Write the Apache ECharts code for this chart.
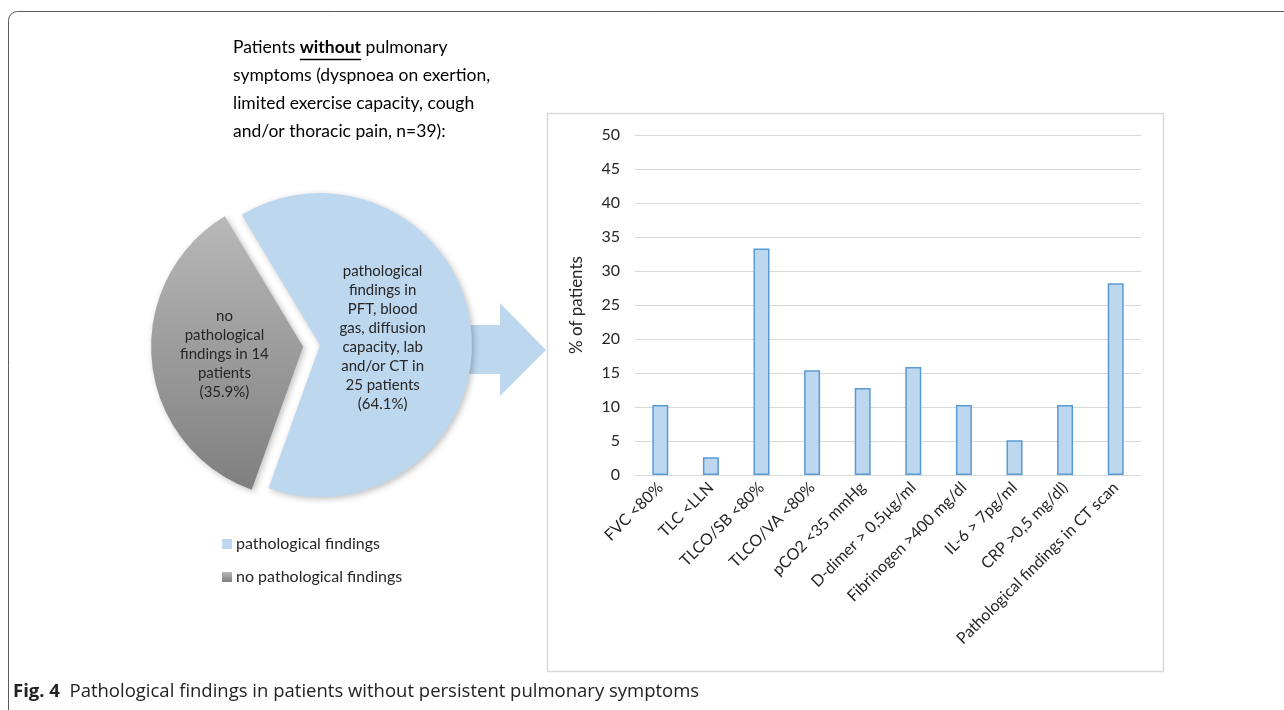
<!DOCTYPE html>
<html>
<head>
<meta charset="utf-8">
<script src="https://cdn.jsdelivr.net/npm/echarts@6/dist/echarts.min.js"></script>
<style>
  html, body { margin: 0; padding: 0; background: #fff; }
  #chart { width: 1284px; height: 710px; }
</style>
</head>
<body>
<div id="chart"></div>
<script>
// bar chart data (% of patients, n=39)
const categories = ['FVC <80%', 'TLC <LLN', 'TLCO/SB <80%', 'TLCO/VA <80%', 'pCO2 <35 mmHg',
  'D-dimer > 0,5µg/ml', 'Fibrinogen >400 mg/dl', 'IL-6 > 7pg/ml', 'CRP >0,5 mg/dl)', 'Pathological findings in CT scan']
const percentValues = [10.3, 2.6, 33.3, 15.4, 12.8, 15.9, 10.3, 5.1, 10.3, 28.2]

// pie data
const pieNames = ['pathological findings', 'no pathological findings']
const pieCounts = [25, 14]
const pieLabels = [
  'pathological\nfindings in\nPFT, blood\ngas, diffusion\ncapacity, lab\nand/or CT in\n25 patients\n(64.1%)',
  'no\npathological\nfindings in 14\npatients\n(35.9%)'
]

const font = 'Lato, "Open Sans", sans-serif'
const textColor = '#262626'
const headSize = 17.5

// where the underline under "without" goes
const ctx = document.createElement('canvas').getContext('2d')
ctx.font = headSize + 'px Lato'
const ulStart = 233 + ctx.measureText('Patients ').width
ctx.font = 'bold ' + headSize + 'px Lato'
const ulEnd = ulStart + ctx.measureText('without').width

const chart = echarts.init(document.getElementById('chart'))

const grayFill = new echarts.graphic.LinearGradient(0, 0, 0, 1, [
  { offset: 0, color: '#b8b8b8' },
  { offset: 1, color: '#7f7f7f' }
])

const option = {
  animation: false,
  legend: {
    orient: 'vertical',
    left: 222,
    top: 536,
    padding: 0,
    icon: 'rect',
    itemWidth: 10,
    itemHeight: 10,
    itemGap: 17,
    selectedMode: false,
    textStyle: { fontFamily: font, fontSize: 16, color: textColor, padding: [0, 0, 0, -1] },
    data: pieNames
  },
  grid: { left: 635, right: 143, top: 135, bottom: 235 },
  xAxis: {
    type: 'category',
    data: categories,
    axisTick: { show: false },
    axisLine: { lineStyle: { color: '#d9d9d9', width: 1 } },
    axisLabel: {
      interval: 0,
      rotate: 45,
      margin: 10,
      fontFamily: font,
      fontSize: 16,
      color: textColor
    }
  },
  yAxis: {
    type: 'value',
    min: 0,
    max: 50,
    interval: 5,
    name: '% of patients',
    nameLocation: 'middle',
    nameRotate: 90,
    nameGap: 50,
    nameTextStyle: { fontFamily: font, fontSize: 17, color: textColor },
    axisLine: { show: false },
    axisTick: { show: false },
    splitLine: { lineStyle: { color: '#d9d9d9', width: 1 } },
    axisLabel: { fontFamily: font, fontSize: 16, color: textColor, margin: 15 }
  },
  series: [
    {
      type: 'bar',
      data: percentValues,
      barWidth: 16,
      itemStyle: { color: '#bdd7ee', borderColor: '#5b9bd5', borderWidth: 1.5 }
    },
    {
      type: 'pie',
      center: [320, 345],
      radius: 152,
      startAngle: 121,
      selectedMode: 'single',
      selectedOffset: 17,
      z: 3,
      label: {
        position: 'inside',
        fontFamily: font,
        fontSize: 15,
        lineHeight: 19,
        color: textColor,
        formatter: (p) => pieLabels[p.dataIndex]
      },
      labelLine: { show: false },
      emphasis: { disabled: true },
      itemStyle: {
        shadowBlur: 6,
        shadowColor: 'rgba(0,0,0,0.25)',
        shadowOffsetX: 2,
        shadowOffsetY: 2
      },
      data: [
        { name: pieNames[0], value: pieCounts[0], itemStyle: { color: '#bdd7ee' }, label: { padding: [14, 32, 0, 0] } },
        { name: pieNames[1], value: pieCounts[1], selected: true, itemStyle: { color: grayFill } }
      ]
    }
  ],
  graphic: [
    // outer figure frame
    {
      type: 'rect', z: 0, silent: true,
      shape: { x: 8.5, y: 11.5, width: 1400, height: 800, r: 9 },
      style: { fill: 'none', stroke: '#5a5a5a', lineWidth: 1 }
    },
    // bar chart box
    {
      type: 'rect', z: 0, silent: true,
      shape: { x: 547.5, y: 113.5, width: 616, height: 558 },
      style: { fill: 'none', stroke: '#d9d9d9', lineWidth: 1.5 }
    },
    // arrow from the pie to the bar chart
    {
      type: 'polygon', z: 1, silent: true,
      shape: { points: [[430, 325], [500, 325], [500, 303], [546, 350], [500, 396], [500, 374], [430, 374]] },
      style: { fill: '#bdd7ee' }
    },
    // header text
    {
      type: 'text', z: 5, left: 233, top: 38,
      style: {
        text: '{a|Patients }{b|without}{a| pulmonary}',
        rich: {
          a: { fontFamily: 'Lato', fontSize: headSize, fill: '#000' },
          b: { fontFamily: 'Lato', fontSize: headSize, fontWeight: 'bold', fill: '#000' }
        }
      }
    },
    {
      type: 'line', z: 5, silent: true,
      shape: { x1: ulStart, y1: 59.5, x2: ulEnd, y2: 59.5 },
      style: { stroke: '#000', lineWidth: 1.4 }
    },
    {
      type: 'text', z: 5, left: 233, top: 61,
      style: {
        text: 'symptoms (dyspnoea on exertion,\nlimited exercise capacity, cough\nand/or thoracic pain, n=39):',
        fontFamily: 'Lato', fontSize: headSize, lineHeight: 28, fill: '#000'
      }
    },
    // caption
    {
      type: 'text', z: 5, left: 13, top: 682,
      style: {
        text: '{b|Fig. 4}{a|  Pathological findings in patients without persistent pulmonary symptoms}',
        rich: {
          a: { fontFamily: 'Open Sans', fontSize: 18.5, fill: '#222' },
          b: { fontFamily: 'Open Sans', fontSize: 18.5, fontWeight: 'bold', fill: '#222' }
        }
      }
    }
  ]
}

chart.setOption(option)
</script>
</body>
</html>
